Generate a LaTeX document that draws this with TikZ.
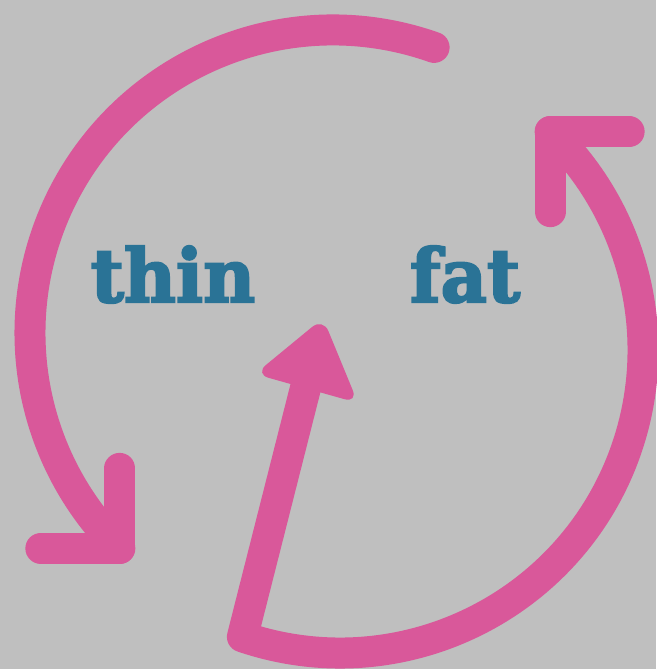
\documentclass[tikz,border=0pt]{standalone}
\usepackage{fontspec}
\usepackage{xcolor}
\usetikzlibrary{positioning}
\newfontfamily\slabfont{DejaVu Serif}[BoldFeatures={FakeBold=3}]
\definecolor{loopPink}{HTML}{D9589A}
\definecolor{wordBlue}{HTML}{2A7396}
\definecolor{bgGray}{HTML}{BFBFBF}

\begin{document}
\begin{tikzpicture}[x=0.02cm, y=0.02cm,
    loop/.style={draw=loopPink, line width=0.62cm, line cap=round, line join=round},
    word/.style={text=wordBlue, inner sep=0pt, anchor=base, font=\slabfont\bfseries\fontsize{42}{42}\selectfont}]
            % Background
            \fill[bgGray] (0,0) rectangle (656,669);
            \useasboundingbox (0,0) rectangle (656,669);

            % Words
            \node[word] (thin) at (173,367) {\scalebox{0.97}[1]{thin}};
            \node[word] (fat) at (465,367) {\scalebox{0.97}[1]{fat}};

            % Left loop, thin -> fat side
            \coordinate (leftstart) at (434.1,621.6);
            \draw[loop] (leftstart) arc[start angle=70.5, end angle=225.3, radius=303] coordinate (leftcorner);
            \draw[loop] (leftcorner) ++(0,80) -- (leftcorner) -- ++(-79,0);

            % Right loop with straight arrow back to the middle
            \coordinate (tip) at (323,351);
            \coordinate (headleft) at (255,295);
            \coordinate (headright) at (358,266);
            \coordinate (headbase) at (306,283);
            \coordinate (rightstart) at (242.4,32.2);
            \draw[loop] (headbase) -- (rightstart) arc[start angle=251.2, end angle=406.1, radius=303] coordinate (rightcorner);
            \draw[loop] (rightcorner) ++(0,-80) -- (rightcorner) -- ++(79,0);
            \fill[loopPink, rounded corners=8] (tip) -- (headleft) -- (headright) -- cycle;
        \end{tikzpicture}
\end{document}
